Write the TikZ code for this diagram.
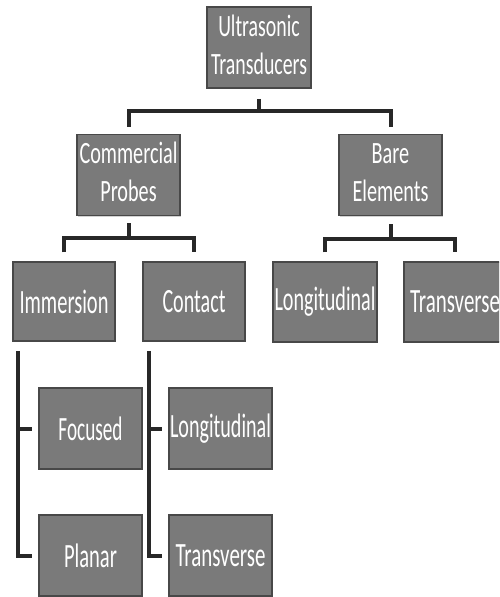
\documentclass[tikz,border=0pt]{standalone}
\usepackage{fontspec}
\setmainfont{Carlito}
\usepackage{graphicx}
\usetikzlibrary{calc,shadows}

\definecolor{boxfill}{RGB}{122,122,122}
\definecolor{boxline}{RGB}{72,72,72}
\definecolor{connline}{RGB}{40,40,40}

% label squeezed horizontally to a given width, keeping its height
\newcommand{\onelbl}[2]{\resizebox{#1}{\height}{\fontsize{34}{40}\selectfont #2}}
\newcommand{\twolbl}[3]{\resizebox{#1}{\height}{\fontsize{31}{38}\selectfont
  \begin{tabular}{@{}c@{}}#2\\#3\end{tabular}}}

\tikzset{
  box/.style={rectangle, draw=boxline, line width=1.5pt, fill=boxfill,
    text=white, inner sep=0pt, minimum width=103pt, minimum height=81pt,
    drop shadow={shadow xshift=1pt, shadow yshift=-1pt, opacity=0.35}},
  conn/.style={draw=connline, line width=4pt, line join=miter}
}

\begin{document}
\begin{tikzpicture}[x=1pt,y=-1pt]
\useasboundingbox (0,0) rectangle (499,597);
\begin{scope}
\clip (0,0) rectangle (499,597);

% first level
\node[box, minimum width=104pt] (top) at (259,47.5) {\twolbl{96pt}{Ultrasonic}{Transducers}};
\node[box] (cp) at (128.5,175) {\twolbl{98pt}{Commercial}{Probes}};
\node[box] (be) at (390.5,175) {\twolbl{76pt}{Bare}{Elements}};

% second level
\node[box, minimum width=102pt, minimum height=79pt] (imm) at (64,301.5) {\onelbl{89pt}{Immersion}};
\node[box, minimum width=102pt, minimum height=79pt] (con) at (194,301.5) {\onelbl{63pt}{Contact}};
\node[box, minimum width=104pt, minimum height=80pt] (lon1) at (325,302) {\onelbl{101pt}{Longitudinal}};
\node[box, minimum width=102pt, minimum height=80pt] (tra1) at (455,302) {\onelbl{90pt}{Transverse}};

% third level
\node[box] (foc) at (90.5,428.5) {\onelbl{64pt}{Focused}};
\node[box] (lon2) at (220.5,428.5) {\onelbl{101pt}{Longitudinal}};
\node[box] (pla) at (90.5,555.5) {\onelbl{53pt}{Planar}};
\node[box] (tra2) at (220.5,555.5) {\onelbl{90pt}{Transverse}};

% bracket under the root
\coordinate (j0) at (259,111);
\draw[conn] ([yshift=-10pt]top.south) -- (j0);
\draw[conn] ([yshift=7pt]cp.north) -- (cp.north |- j0) -- (be.north |- j0) -- ([yshift=7pt]be.north);

% bracket under Commercial Probes
\coordinate (j1) at (128.5,238);
\draw[conn] ([yshift=-7pt]cp.south) -- (j1);
\draw[conn] ([yshift=9pt]imm.north) -- (imm.north |- j1) -- (con.north |- j1) -- ([yshift=9pt]con.north);

% bracket under Bare Elements
\coordinate (j2) at (390.5,239);
\draw[conn] ([yshift=-8pt]be.south) -- (j2);
\draw[conn] ([yshift=9pt]lon1.north) -- (lon1.north |- j2) -- (tra1.north |- j2) -- ([yshift=9pt]tra1.north);

% side rails under Immersion and Contact
\coordinate (iv) at ([xshift=6pt,yshift=-9pt]imm.south west);
\draw[conn] (iv) |- ([xshift=-6pt]pla.west);
\draw[conn] (iv |- foc.west) -- ([xshift=-6pt]foc.west);

\coordinate (cv) at ([xshift=7pt,yshift=-9pt]con.south west);
\draw[conn] (cv) |- ([xshift=-6pt]tra2.west);
\draw[conn] (cv |- lon2.west) -- ([xshift=-6pt]lon2.west);
\end{scope}
\end{tikzpicture}
\end{document}
